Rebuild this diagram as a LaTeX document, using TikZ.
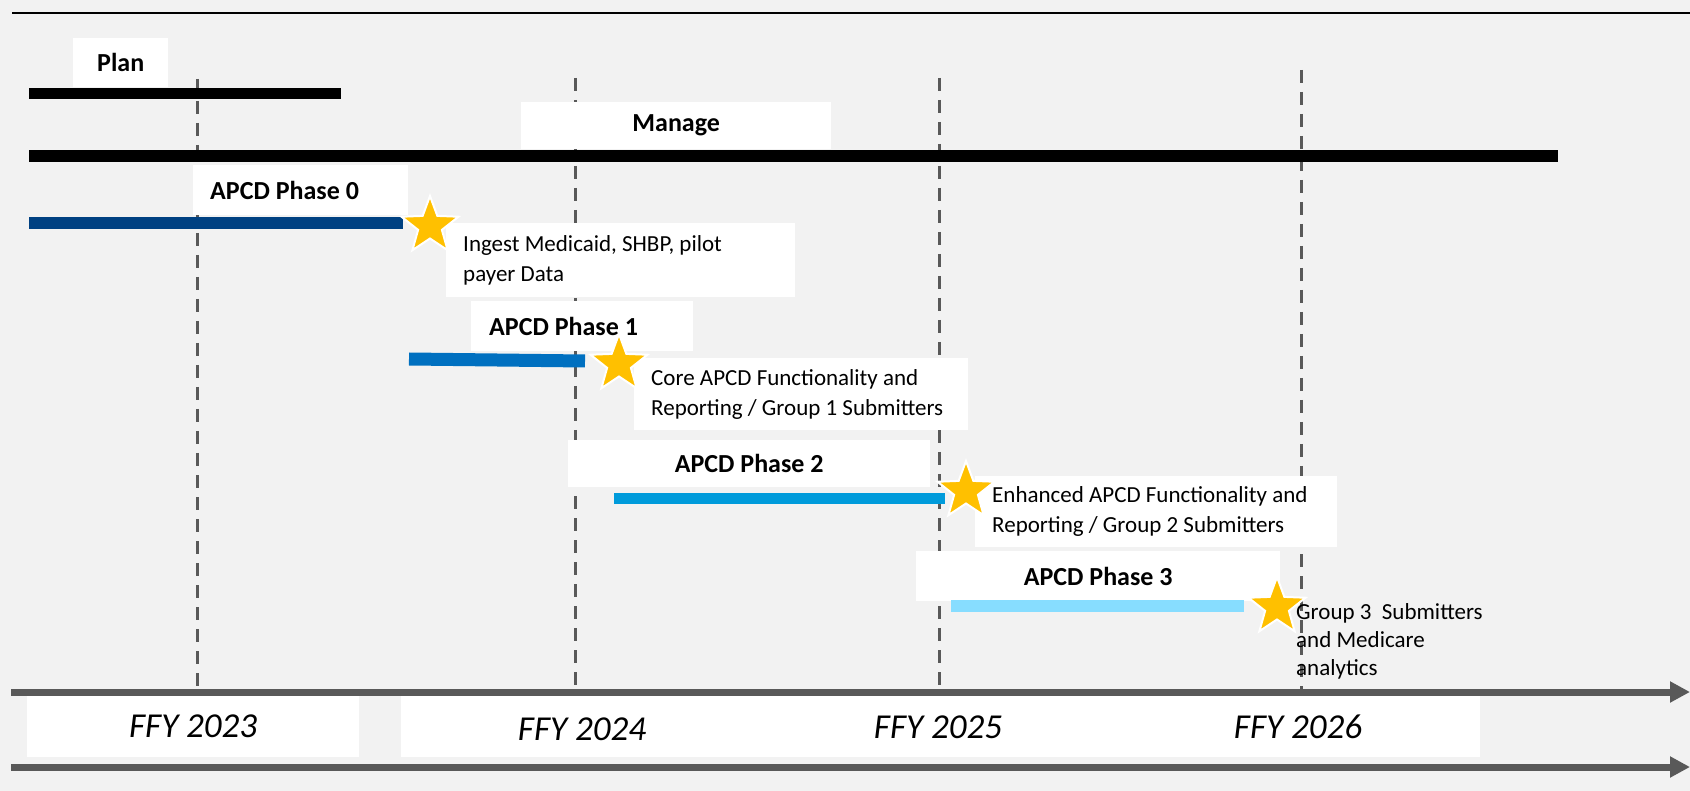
\documentclass[tikz,border=0pt]{standalone}
\usepackage{fontspec}
\setmainfont{Carlito}
\usepackage{xcolor}
\usetikzlibrary{shapes.geometric,arrows.meta}
\definecolor{bgGray}{RGB}{242,242,242}
\definecolor{axisGray}{RGB}{89,89,89}
\definecolor{starGold}{RGB}{255,192,0}
\definecolor{phaseZero}{RGB}{0,65,130}
\definecolor{phaseOne}{RGB}{0,112,192}
\definecolor{phaseTwo}{RGB}{0,155,219}
\definecolor{phaseThree}{RGB}{135,221,255}

\begin{document}
\begin{tikzpicture}[x=1pt,y=-1pt,
	barlabel/.style={fill=white, inner sep=0pt, anchor=north west, font=\bfseries\fontsize{26}{30}\selectfont},
	notebox/.style={fill=white, inner xsep=17pt, inner ysep=0pt, anchor=north west, align=flush left, font=\fontsize{23}{30}\selectfont},
	yearfont/.style={inner sep=0pt, font=\itshape\fontsize{35}{40}\selectfont},
	milestone/.style={star, star points=5, star point ratio=2.4, fill=starGold, draw=white, line width=2pt, minimum size=60pt, inner sep=0pt},
	gridline/.style={axisGray, line width=3pt, dash pattern=on 13pt off 9pt},
	timeaxis/.style={axisGray, line width=7pt, -{Triangle[length=20pt,width=20pt]}}]
		\useasboundingbox (0,0) rectangle (1690,791);
		\fill[bgGray] (0,0) rectangle (1690,791);% background

		\coordinate (TopMin)      at (12,13);
		\coordinate (TopMax)      at (1690,13);
		\coordinate (AxisTopMin)  at (11,692);
		\coordinate (AxisTopMax)  at (1690,692);
		\coordinate (AxisLowMin)  at (11,767);
		\coordinate (AxisLowMax)  at (1690,767);
		\draw [black, line width=1.5pt] (TopMin) -- (TopMax);% Draw top rule

		\foreach \x/\ytop in {197/79, 575/78, 939/78, 1301/70}{% one dashed line per year
		  \draw[gridline] (\x,\ytop) -- (\x,690);
		}

		% labels over the bars
		\node[barlabel, minimum width=95pt, minimum height=49pt] (plan) at (73,38) {Plan};
		\node[barlabel, minimum width=310pt, minimum height=47pt] (manage) at (521,102) {Manage};
		\node[barlabel, text width=181pt, inner xsep=17pt, minimum height=50pt, align=flush left] (phase0) at (193,165) {APCD Phase 0};
		\node[barlabel, text width=186pt, inner xsep=18pt, minimum height=50pt, align=flush left] (phase1) at (471,301) {APCD Phase 1};
		\node[barlabel, minimum width=362pt, minimum height=47pt] (phase2) at (568,440) {APCD Phase 2};
		\node[barlabel, minimum width=364pt, minimum height=50pt] (phase3) at (916,551) {APCD Phase 3};

		% milestone notes
		\node[notebox, text width=315pt, minimum height=74pt] (note0) at (446,223) {Ingest Medicaid, SHBP, pilot\\payer Data};
		\node[notebox, text width=300pt, minimum height=72pt] (note1) at (634,358) {Core APCD Functionality and\\Reporting / Group 1 Submitters};
		\node[notebox, text width=328pt, minimum height=71pt] (note2) at (975,476) {Enhanced APCD Functionality and\\Reporting / Group 2 Submitters};
		\node[anchor=west, align=flush left, inner sep=0pt, font=\fontsize{23}{28}\selectfont] (note3) at (1296,641) {Group 3\ \ Submitters\\and Medicare\\analytics};

		% bars
		\draw[black, line width=11pt] (29,94) -- (341,94);
		\draw[black, line width=12pt] (29,156) -- (1558,156);
		\draw[phaseZero, line width=12pt] (29,223) -- (403,223);
		\draw[phaseOne, line width=13pt] (409,359) -- (585,361);
		\draw[phaseTwo, line width=11pt] (614,498) -- (945,498);
		\draw[phaseThree, line width=12pt] (951,606) -- (1244,606);

		\node[milestone] (star0) at (430,226) {};
		\node[milestone] (star1) at (619,364) {};
		\node[milestone] (star2) at (966,491) {};
		\node[milestone] (star3) at (1277,607) {};

		% time axis
		\draw[timeaxis] (AxisTopMin) -- (AxisTopMax);
		\node[fill=white, minimum width=332pt, minimum height=61pt, anchor=north west, inner sep=0pt, font=\itshape\fontsize{35}{40}\selectfont] (fy23) at (27,696) {FFY 2023};
		\node[fill=white, minimum width=1079pt, minimum height=61pt, anchor=north west, inner sep=0pt] (yearband) at (401,696) {};
		\node[yearfont] (fy24) at (582,729) {FFY 2024};
		\node[yearfont] (fy25) at (938,727) {FFY 2025};
		\node[yearfont] (fy26) at (1298,727) {FFY 2026};
		\draw[timeaxis] (AxisLowMin) -- (AxisLowMax);
	  \end{tikzpicture}
\end{document}
